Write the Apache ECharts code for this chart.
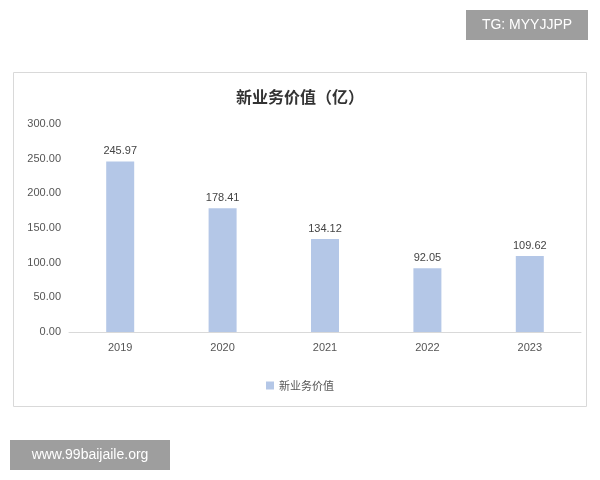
<!DOCTYPE html>
<html><head><meta charset="utf-8">
<script src="https://cdn.jsdelivr.net/npm/echarts@6/dist/echarts.min.js"></script>
<style>html,body{margin:0;padding:0;background:#fff}#c{width:600px;height:480px}</style>
</head><body><div id="c"></div>
<script>
const categories = ['2019','2020','2021','2022','2023'];
const values = [245.97, 178.41, 134.12, 92.05, 109.62];
const yTicks = [0, 50, 100, 150, 200, 250, 300];
const chart = echarts.init(document.getElementById('c'));
chart.setOption({
  animation:false,
  title:{text:'新业务价值（亿）',left:'center',top:84,textStyle:{fontSize:16,fontWeight:'bold',color:'#333',fontFamily:'Noto Sans CJK SC'}},
  legend:{bottom:84,left:'center',itemWidth:8,itemHeight:8,icon:'rect',textStyle:{fontSize:11,color:'#555',fontFamily:'Noto Sans CJK SC'},data:['新业务价值']},
  grid:{left:69,right:19,top:124,bottom:148},
  xAxis:{type:'category',data:categories,axisTick:{show:false},axisLine:{lineStyle:{color:'#d9d9d9'}},axisLabel:{color:'#555',fontSize:11,margin:10}},
  yAxis:{type:'value',min:yTicks[0],max:yTicks[yTicks.length-1],interval:50,splitLine:{show:false},axisLine:{show:false},axisTick:{show:false},
    axisLabel:{color:'#555',fontSize:11,formatter:v=>v.toFixed(2),margin:8}},
  series:[{name:'新业务价值',type:'bar',data:values,barWidth:28,itemStyle:{color:'#b4c7e7'},
    label:{show:true,position:'top',color:'#444',fontSize:11,formatter:p=>p.value.toFixed(2)}}],
  graphic:[
    {type:'rect',shape:{x:13.5,y:72.5,width:573,height:334},style:{fill:'none',stroke:'#d9d9d9',lineWidth:1},z:-1},
    {type:'rect',shape:{x:466,y:10,width:122,height:30},style:{fill:'#9e9e9e'}},
    {type:'text',x:527,y:25,style:{text:'TG: MYYJJPP',fill:'#fff',fontSize:14,textAlign:'center',textVerticalAlign:'middle'}},
    {type:'rect',shape:{x:10,y:440,width:160,height:30},style:{fill:'#9e9e9e'}},
    {type:'text',x:90,y:455,style:{text:'www.99baijaile.org',fill:'#fff',fontSize:14,textAlign:'center',textVerticalAlign:'middle'}}
  ]
});
</script></body></html>
